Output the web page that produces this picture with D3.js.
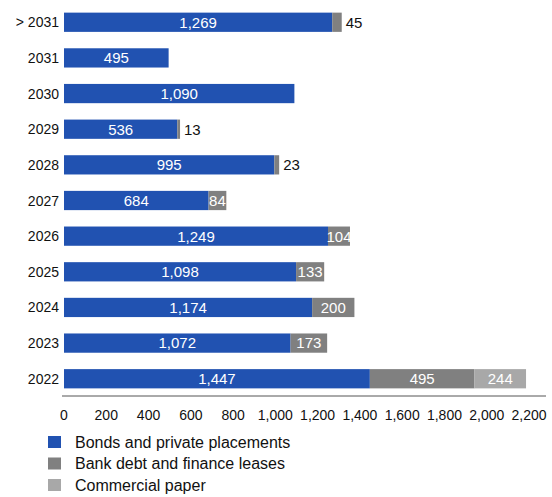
<!DOCTYPE html>
<html>
<head>
<meta charset="utf-8">
<script src="https://cdn.jsdelivr.net/npm/d3@7"></script>
<style>
  body { margin: 0; background: #fff; }
  text { font-family: "Liberation Sans", Arial, sans-serif; }
</style>
</head>
<body>
<div id="chart"></div>
<script>
// data
var years = ["> 2031", "2031", "2030", "2029", "2028", "2027", "2026", "2025", "2024", "2023", "2022"];
var bonds = [1269, 495, 1090, 536, 995, 684, 1249, 1098, 1174, 1072, 1447];
var bank = [45, 0, 0, 13, 23, 84, 104, 133, 200, 173, 495];
var paper = [0, 0, 0, 0, 0, 0, 0, 0, 0, 0, 244];
var seriesNames = ["Bonds and private placements", "Bank debt and finance leases", "Commercial paper"];
var xTicks = [0, 200, 400, 600, 800, 1000, 1200, 1400, 1600, 1800, 2000, 2200];

var colors = ["#2152b1", "#808080", "#a8a8a8"];

var W = 552, H = 497;
var margin = { top: 5.5, left: 64, right: 23 };

var svg = d3.select("#chart").append("svg")
    .attr("width", W)
    .attr("height", H);

var x = d3.scaleLinear().domain([0, 2200]).range([margin.left, W - margin.right]);
var y = d3.scaleBand().domain(years).range([margin.top, 395.5]).paddingInner(0.46).paddingOuter(0.2);

var table = years.map(function (d, i) {
    return { year: d, bonds: bonds[i], bank: bank[i], paper: paper[i] };
});
var stack = d3.stack().keys(["bonds", "bank", "paper"])(table);

// bars
stack.forEach(function (layer, k) {
    svg.append("g").selectAll("rect")
        .data(layer)
        .enter()
        .append("rect")
        .attr("x", function (d) { return x(d[0]); })
        .attr("y", function (d) { return y(d.data.year); })
        .attr("width", function (d) { return x(d[1]) - x(d[0]); })
        .attr("height", y.bandwidth())
        .attr("fill", colors[k]);

    // labels
    svg.append("g").selectAll("text")
        .data(layer.filter(function (d) { return d[1] - d[0] > 0; }))
        .enter()
        .append("text")
        .attr("x", function (d) {
            var v = d[1] - d[0];
            return v < 50 ? x(d[1]) + 4 : (x(d[0]) + x(d[1])) / 2;
        })
        .attr("y", function (d) { return y(d.data.year) + y.bandwidth() / 2; })
        .attr("dy", "0.36em")
        .attr("text-anchor", function (d) { return d[1] - d[0] < 50 ? "start" : "middle"; })
        .attr("fill", function (d) { return d[1] - d[0] < 50 ? "#111" : "#fff"; })
        .style("font-size", "15px")
        .text(function (d) { return d3.format(",")(d[1] - d[0]); });
});

// y labels
svg.append("g").selectAll("text")
    .data(years)
    .enter()
    .append("text")
    .attr("x", margin.left - 5)
    .attr("y", function (d) { return y(d) + y.bandwidth() / 2; })
    .attr("dy", "0.36em")
    .attr("text-anchor", "end")
    .attr("fill", "#111")
    .style("font-size", "14px")
    .text(function (d) { return d; });

// x axis
var axisY = 396;
svg.append("line")
    .attr("x1", margin.left - 2).attr("x2", W - 6)
    .attr("y1", axisY).attr("y2", axisY)
    .attr("stroke", "#555").attr("stroke-width", 1);

svg.append("g").selectAll("text")
    .data(xTicks)
    .enter()
    .append("text")
    .attr("x", function (d) { return x(d); })
    .attr("y", axisY + 24)
    .attr("text-anchor", "middle")
    .attr("fill", "#111")
    .style("font-size", "14px")
    .text(function (d) { return d3.format(",")(d); });

// legend
var legend = svg.append("g").selectAll("g")
    .data(seriesNames)
    .enter()
    .append("g")
    .attr("transform", function (d, i) { return "translate(48," + (436 + i * 21.5) + ")"; });
legend.append("rect")
    .attr("width", 13).attr("height", 12)
    .attr("fill", function (d, i) { return colors[i]; });
legend.append("text")
    .attr("x", 27).attr("y", 6)
    .attr("dy", "0.36em")
    .attr("fill", "#111")
    .style("font-size", "16px")
    .text(function (d) { return d; });
</script>
</body>
</html>
